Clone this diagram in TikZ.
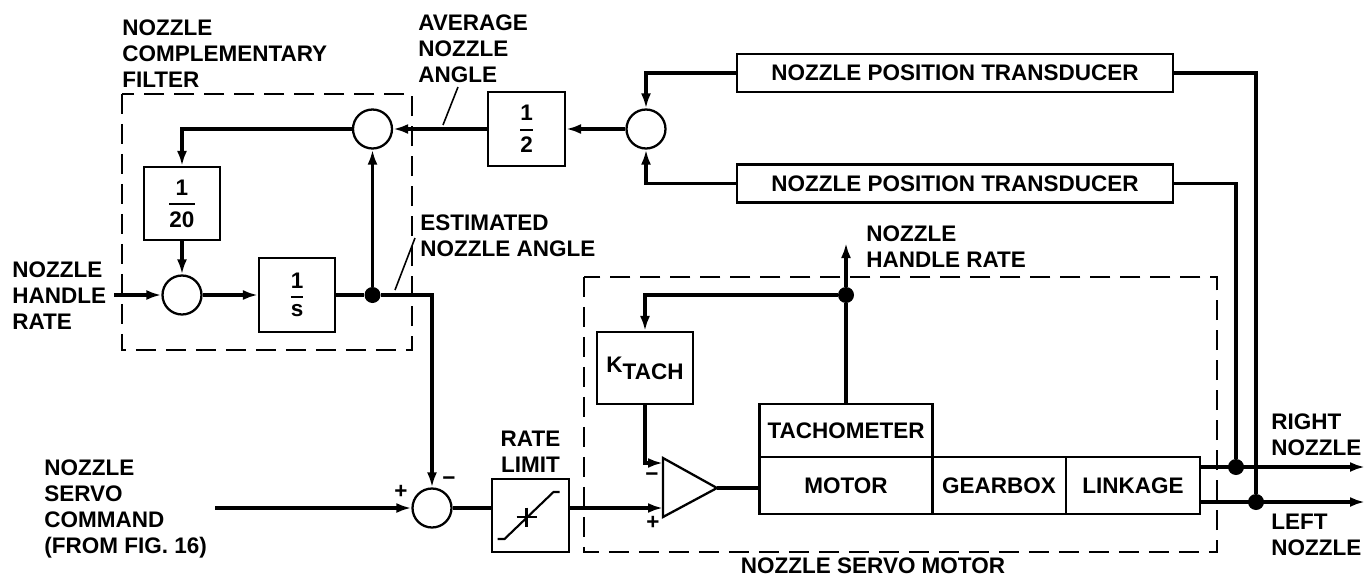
\documentclass[tikz,border=0pt]{standalone}
\usepackage{fontspec,amsmath}
\setmainfont{Liberation Sans}
\usetikzlibrary{arrows.meta,positioning}
\newcommand{\blkfrac}[2]{$\genfrac{}{}{1.2pt}{0}{\mbox{#1}}{\mbox{#2}}$}

\begin{document}
\begin{tikzpicture}[x=0.02cm,y=-0.02cm,>={Latex[length=3mm,width=2mm]},
 font=\fontsize{12.8}{14.8}\selectfont\bfseries,
 blk/.style={draw,line width=1.2pt,inner sep=0pt,align=center},
 sumc/.style={draw,circle,line width=1.3pt,minimum size=0.78cm,inner sep=0pt},
 jdot/.style={circle,fill,minimum size=0.32cm,inner sep=0pt},
 sig/.style={line width=2.1pt},
 lbl/.style={align=left,inner sep=0pt},
 grp/.style={line width=1.2pt,dash pattern=on 0.4cm off 0.2cm},
 lead/.style={line width=0.9pt}]
\useasboundingbox (0,0) rectangle (1370,575);

% complementary filter
\draw[grp] (122,94) rectangle (412,350);
\node[lbl,anchor=north west] (filtlbl) at (122,19) {NOZZLE\\COMPLEMENTARY\\FILTER};
\node[sumc] (sumA) at (372.5,129) {};
\node[blk,minimum width=1.52cm,minimum height=1.46cm] (div20) at (182,203.5) {\blkfrac{1}{20}};
\node[sumc] (sumB) at (182,295) {};
\node[blk,minimum width=1.52cm,minimum height=1.48cm] (integ) at (297,295) {\blkfrac{1}{s}};
\node[jdot] (jest) at (372.5,295) {};
\node[lbl,anchor=north west] (hrlbl) at (12,261) {NOZZLE\\HANDLE\\RATE};

% averaging of the two transducers
\node[blk,minimum width=1.54cm,minimum height=1.48cm] (half) at (526.5,129) {\blkfrac{1}{2}};
\node[sumc] (sumC) at (646,129) {};
\node[blk,minimum width=8.72cm,minimum height=0.76cm] (npt1) at (955,73) {NOZZLE POSITION TRANSDUCER};
\node[blk,minimum width=8.72cm,minimum height=0.76cm] (npt2) at (955,183.5) {NOZZLE POSITION TRANSDUCER};
\node[lbl,anchor=north west] (avglbl) at (418,14) {AVERAGE\\NOZZLE\\ANGLE};
\node[lbl,anchor=north west] (estlbl) at (420,214) {ESTIMATED\\NOZZLE ANGLE};

% command path
\node[lbl,anchor=north west] (cmdlbl) at (44,459) {NOZZLE\\SERVO\\COMMAND\\(FROM FIG. 16)};
\node[sumc] (sumD) at (432,508) {};
\node (plusD) at (401,492) {+};
\node (minusD) at (449,481) {−};
\node[blk,minimum width=1.54cm,minimum height=1.46cm] (ratelim) at (530.5,515.5) {};
\node[lbl,align=center,anchor=north] (ratelbl) at (530.5,431) {RATE\\LIMIT};

% servo motor
\draw[grp] (584,277) rectangle (1217,552);
\node[lbl,anchor=north] (servolbl) at (873,557) {NOZZLE SERVO MOTOR};
\node[blk,minimum width=1.92cm,minimum height=1.44cm] (ktach) at (645,368) {K\raisebox{-4pt}{TACH}};
\draw[line width=1.3pt] (663,458) -- (717,488) -- (663,517) -- cycle;
\coordinate (ampm) at (663,463);
\coordinate (ampp) at (663,508);
\coordinate (ampo) at (717,488);
\node (minusA) at (652,477) {−};
\node (plusA) at (653,523) {+};
\node[blk,minimum width=3.46cm,minimum height=1.06cm] (tach) at (846,430.5) {TACHOMETER};
\node[blk,minimum width=3.46cm,minimum height=1.14cm] (motor) at (846,485.5) {MOTOR};
\node[blk,minimum width=2.68cm,minimum height=1.14cm] (gearbox) at (999,485.5) {GEARBOX};
\node[blk,minimum width=2.68cm,minimum height=1.14cm] (linkage) at (1133,485.5) {LINKAGE};
\node[jdot] (jtach) at (846,295) {};
\coordinate (hrout) at (846,243);
\node[lbl,anchor=north west] (hroutlbl) at (866,225) {NOZZLE\\HANDLE RATE};

% nozzle outputs
\coordinate (rnz) at (1365,467);
\coordinate (lnz) at (1365,502);
\node[jdot] (jR) at (1236,467) {};
\node[jdot] (jL) at (1256,502) {};
\node[lbl,anchor=north west] (rnzlbl) at (1271,413) {RIGHT\\NOZZLE};
\node[lbl,anchor=north west] (lnzlbl) at (1271,514) {LEFT\\NOZZLE};

% rate limit curve
\draw[line width=1.2pt,shift={(ratelim.center)}] (-33,23.5) -- (-26,23.5) -- (23,-23.5) -- (29,-23.5);
\draw[line width=1.6pt,shift={(ratelim.center)}] (-14,1.5) -- (6,1.5) (-4,-8) -- (-4,11);

% signal lines
\draw[sig,->] (npt1.west) -| (sumC.north);
\draw[sig,->] (npt2.west) -| (sumC.south);
\draw[sig,->] (sumC.west) -- (half.east);
\draw[sig,->] (half.west) -- (sumA.east);
\draw[sig,->] (sumA.west) -| (div20.north);
\draw[sig,->] (div20.south) -- (sumB.north);
\draw[sig,->] (sumB.west -| hrlbl.east) ++(8,0) -- (sumB.west);
\draw[sig,->] (sumB.east) -- (integ.west);
\draw[sig] (integ.east) -- (jest);
\draw[sig,->] (jest) -- (sumA.south);
\draw[sig,->] (jest) -| (sumD.north);
\draw[sig,->] (sumD.west -| cmdlbl.east) ++(8,0) -- (sumD.west);
\draw[sig] (sumD.east) -- (sumD.east -| ratelim.west);
\draw[sig,->] (ratelim.east |- ampp) -- (ampp);
\draw[sig,->] (ktach.south) |- (ampm);
\draw[sig] (ampo) -- (ampo -| motor.west);
\draw[sig] (tach.north) -- (jtach);
\draw[sig,->] (jtach) -- (hrout);
\draw[sig,->] (jtach) -| (ktach.north);
\draw[sig,->] (linkage.east |- rnz) -- (rnz);
\draw[sig,->] (linkage.east |- lnz) -- (lnz);
\draw[sig] (npt1.east) -| (jL);
\draw[sig] (npt2.east) -| (jR);

% leaders
\draw[lead] (443,125) -- (458,87);
\draw[lead] (395,290) -- (415,238);
\end{tikzpicture}
\end{document}
